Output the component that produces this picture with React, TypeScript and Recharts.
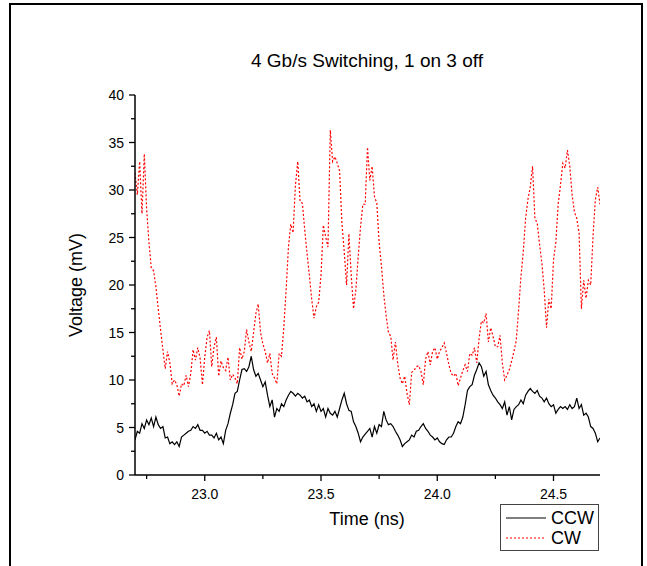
import { LineChart, Line, XAxis, YAxis } from "recharts";

// sampling grid of the scope trace (ns)
const START_NS = 22.7;
const STEP_NS = 0.01;

// counter-clockwise output, mV, one value per 10 ps from 22.70 ns
const CCW_MV = [
  3.7, 4.6, 4.4, 5.4, 4.9, 5.8, 5.3, 6.0, 5.1, 6.1,
  5.3, 4.9, 5.1, 3.9, 4.0, 3.3, 3.5, 3.2, 3.5, 3.0,
  4.0, 4.2, 4.4, 4.6, 4.7, 5.1, 4.9, 5.3, 4.7, 4.7,
  4.4, 4.6, 4.2, 4.2, 3.9, 4.4, 3.7, 4.0, 3.3, 4.7,
  5.4, 6.5, 7.4, 8.6, 8.8, 10.0, 11.1, 11.2, 10.9, 11.4,
  12.5, 11.1, 10.4, 10.7, 10.0, 9.3, 9.8, 8.4, 7.2, 7.9,
  6.1, 7.0, 6.7, 7.5, 7.2, 7.9, 8.4, 8.8, 8.6, 8.3,
  8.6, 8.4, 8.1, 8.3, 7.7, 7.9, 7.2, 7.5, 6.7, 7.4,
  6.7, 7.0, 6.1, 7.0, 6.5, 6.3, 6.7, 6.1, 7.0, 7.9,
  8.6, 7.5, 6.8, 6.7, 5.6, 5.1, 4.4, 3.5, 4.0, 4.3,
  4.6, 4.9, 4.0, 5.1, 4.4, 5.3, 5.1, 6.7, 5.8, 5.3,
  5.4, 5.1, 4.6, 4.2, 3.7, 3.0, 3.3, 3.5, 3.7, 4.2,
  4.0, 4.6, 4.7, 5.1, 5.4, 4.9, 4.6, 4.2, 4.0, 3.7,
  3.9, 3.5, 3.3, 3.2, 3.7, 4.0, 4.0, 4.4, 5.1, 5.6,
  5.4, 6.1, 7.4, 8.9, 9.3, 9.5, 10.5, 11.1, 11.8, 11.4,
  10.4, 10.9, 9.5, 8.9, 8.4, 8.1, 7.7, 7.4, 7.0, 7.7,
  6.3, 7.2, 5.8, 6.9, 7.2, 7.4, 7.9, 7.5, 8.4, 8.8,
  9.1, 8.8, 8.6, 8.9, 8.3, 8.1, 7.7, 8.1, 7.5, 7.2,
  7.4, 6.5, 6.9, 7.2, 7.0, 7.2, 6.9, 7.4, 7.0, 7.2,
  8.1, 7.0, 7.4, 6.3, 6.5, 6.1, 5.1, 4.9, 4.4, 3.5,
  3.9,
];

// clockwise output, mV, same grid
const CW_MV = [
  31.8, 29.5, 33.0, 27.5, 33.8, 28.0, 24.5, 21.8, 21.5, 19.8,
  17.5, 15.3, 13.2, 11.2, 13.0, 11.8, 9.6, 10.0, 9.5, 8.3,
  9.6, 9.4, 10.5, 9.3, 10.7, 13.2, 12.1, 13.4, 12.3, 9.5,
  12.4, 14.5, 15.2, 11.4, 13.5, 14.5, 10.4, 12.0, 11.3, 11.0,
  12.4, 10.0, 10.6, 10.2, 9.6, 13.4, 12.2, 13.0, 15.3, 14.0,
  13.0, 15.0, 17.0, 18.0, 15.0, 13.8, 13.0, 11.8, 12.8, 10.7,
  10.2, 9.6, 12.8, 12.5, 15.5, 19.5, 24.0, 26.4, 25.5, 30.5,
  33.0, 28.8, 28.6, 25.8, 23.3, 21.0, 18.5, 16.5, 17.7, 18.2,
  21.0, 26.3, 25.1, 24.0, 36.3, 33.0, 33.5, 32.8, 32.0, 26.5,
  23.5, 20.0, 25.4, 21.0, 17.5, 19.5, 23.0, 26.1, 28.5, 28.5,
  34.5, 31.0, 32.5, 29.3, 28.6, 24.5, 22.0, 19.0, 16.8, 15.0,
  14.6, 12.1, 14.0, 11.7, 10.2, 9.6, 10.4, 8.6, 7.4, 10.8,
  11.0, 11.4, 11.5, 10.9, 9.5, 12.2, 13.0, 11.6, 13.0, 13.4,
  12.2, 13.0, 13.4, 13.9, 12.8, 11.6, 10.7, 10.4, 10.7, 9.4,
  10.2, 11.0, 11.6, 10.9, 12.8, 12.6, 13.4, 11.8, 14.4, 16.2,
  16.0, 17.0, 14.0, 15.5, 14.6, 13.5, 13.5, 14.7, 11.8, 10.0,
  10.5, 11.1, 12.0, 13.0, 14.2, 17.4, 20.9, 23.5, 27.0, 29.0,
  30.3, 32.5, 27.0, 26.5, 24.3, 22.3, 19.5, 15.5, 18.5, 17.5,
  22.6, 24.5, 28.5, 30.5, 32.8, 32.3, 34.2, 32.5, 29.5, 27.7,
  27.0, 25.5, 17.5, 20.5, 18.6, 20.5, 20.0, 25.1, 29.0, 30.3,
  28.5,
];

const X_TICKS = [22.75, 23.0, 23.25, 23.5, 23.75, 24.0, 24.25, 24.5];
const Y_TICKS = [0, 2.5, 5, 7.5, 10, 12.5, 15, 17.5, 20, 22.5, 25, 27.5, 30, 32.5, 35, 37.5, 40];

const SERIES = [
  { key: "ccw", name: "CCW", color: "#000000", dash: undefined as string | undefined },
  { key: "cw", name: "CW", color: "#ff0000", dash: "2 2" },
];

const FONT = '"Liberation Sans", Arial, Helvetica, sans-serif';

const data = CCW_MV.map((v, i) => ({
  t: +(START_NS + i * STEP_NS).toFixed(2),
  ccw: v,
  cw: CW_MV[i],
}));

function XTick({ x, y, payload }: any) {
  const v = payload.value as number;
  const major = Math.abs(v * 2 - Math.round(v * 2)) < 1e-6;
  return (
    <g>
      <line x1={x} x2={x} y1={y} y2={y + (major ? 6 : 4)} stroke="#000" strokeWidth={1.3} />
      {major && (
        <text x={x} y={y + 24} textAnchor="middle" fontSize={14} fontFamily={FONT} fill="#000">
          {v.toFixed(1)}
        </text>
      )}
    </g>
  );
}

function YTick({ x, y, payload }: any) {
  const v = payload.value as number;
  const major = v % 5 === 0;
  return (
    <g>
      <line x1={x} x2={x - (major ? 6 : 4)} y1={y} y2={y} stroke="#000" strokeWidth={1.3} />
      {major && (
        <text x={x - 11} y={y + 5} textAnchor="end" fontSize={14} fontFamily={FONT} fill="#000">
          {v}
        </text>
      )}
    </g>
  );
}

export default function App() {
  return (
    <div style={{ position: "absolute", left: 0, top: 0, width: 647, height: 566, overflow: "hidden", background: "#fff", fontFamily: FONT }}>
      {/* outer frame */}
      <div style={{ position: "absolute", left: 9, top: 3, width: 630, height: 620, border: "2px solid #000" }} />

      <div style={{ position: "absolute", left: 117, width: 500, top: 50, textAlign: "center", fontSize: 19, lineHeight: "22px", color: "#000" }}>
        4 Gb/s Switching, 1 on 3 off
      </div>

      <div style={{ position: "absolute", left: 0, top: 0 }}>
        <LineChart width={647} height={566} data={data}
          margin={{ top: 95, right: 47, bottom: 51, left: 75 }}>
          <XAxis dataKey="t" type="number" domain={[22.7, 24.7]} ticks={X_TICKS} allowDataOverflow
            height={40} tickSize={0} tickMargin={0} tick={(p: any) => <XTick {...p} />}
            axisLine={{ stroke: "#000", strokeWidth: 1.5 }} />
          <YAxis type="number" domain={[0, 40]} ticks={Y_TICKS} allowDataOverflow
            width={60} tickSize={0} tickMargin={0} tick={(p: any) => <YTick {...p} />}
            axisLine={{ stroke: "#000", strokeWidth: 1.5 }} />
          <Line dataKey="cw" name="CW" type="linear" stroke="#ff0000" strokeWidth={1.2}
            strokeDasharray="2 2" dot={false} isAnimationActive={false} />
          <Line dataKey="ccw" name="CCW" type="linear" stroke="#000" strokeWidth={1.2}
            dot={false} isAnimationActive={false} />
        </LineChart>
      </div>

      {/* axis titles */}
      <div style={{ position: "absolute", left: 267, width: 200, top: 509, textAlign: "center", fontSize: 18 }}>
        Time (ns)
      </div>
      <div style={{ position: "absolute", left: 77 - 100, top: 285 - 11, width: 200, textAlign: "center", fontSize: 18,
        transform: "rotate(-90deg)", transformOrigin: "100px 11px" }}>
        Voltage (mV)
      </div>

      {/* legend */}
      <div style={{ position: "absolute", left: 500, top: 504, width: 97, height: 45, border: "1px solid #444", background: "#fff" }}>
        {SERIES.map((s, i) => (
          <div key={s.key} style={{ position: "absolute", left: 0, top: 3 + i * 20, height: 20, display: "flex", alignItems: "center" }}>
            <svg width={50} height={20} style={{ display: "block" }}>
              <line x1={5} x2={45} y1={10} y2={10} stroke={s.color} strokeWidth={1.2} strokeDasharray={s.dash} />
            </svg>
            <span style={{ fontSize: 18, lineHeight: "20px" }}>{s.name}</span>
          </div>
        ))}
      </div>
    </div>
  );
}
